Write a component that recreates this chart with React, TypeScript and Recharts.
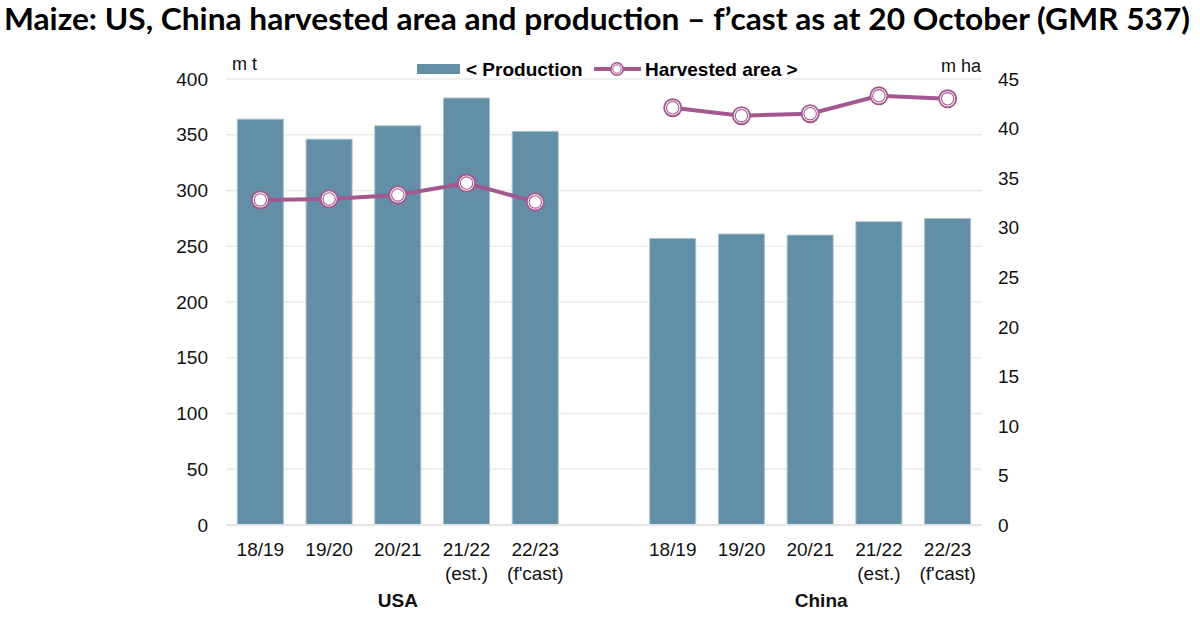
import { ComposedChart, Bar, Line, XAxis, YAxis, CartesianGrid } from 'recharts';

const categories = [
  'USA 18/19', 'USA 19/20', 'USA 20/21', 'USA 21/22', 'USA 22/23',
  'gap',
  'China 18/19', 'China 19/20', 'China 20/21', 'China 21/22', 'China 22/23',
];
const seasonLabels = ['18/19', '19/20', '20/21', '21/22', '22/23', '', '18/19', '19/20', '20/21', '21/22', '22/23'];
const noteLabels = ['', '', '', '(est.)', "(f'cast)", '', '', '', '', '(est.)', "(f'cast)"];
const groupLabels = [
  { index: 2, text: 'USA', shift: 0 },
  { index: 8, text: 'China', shift: 11 },
];

const production = [364, 346, 358, 383, 353, null, 257, 261, 260, 272, 275];
const harvestedArea = [32.8, 32.9, 33.3, 34.5, 32.6, null, 42.1, 41.3, 41.5, 43.3, 43.0];

const leftTicks = [0, 50, 100, 150, 200, 250, 300, 350, 400];
const rightTicks = [0, 5, 10, 15, 20, 25, 30, 35, 40, 45];

const BAR_COLOR = '#628fa5';
const LINE_COLOR = '#a3588f';
const FONT = '"Liberation Sans", Arial, sans-serif';

const data = categories.map((key, i) => ({
  key,
  production: production[i],
  area: harvestedArea[i],
}));

function AreaDot(props: any) {
  const { cx, cy, payload } = props;
  if (payload?.area == null || cx == null || cy == null) return null;
  return (
    <g>
      <circle cx={cx} cy={cy} r={9.5} fill={LINE_COLOR} />
      <circle cx={cx} cy={cy} r={7.6} fill="#fff" />
      <circle cx={cx} cy={cy} r={6.2} fill="#fff" stroke={LINE_COLOR} strokeWidth={1.1} />
    </g>
  );
}

function CategoryTick(props: any) {
  const { x, y, index } = props;
  const group = groupLabels.find((g) => g.index === index);
  return (
    <g fontFamily={FONT} fontSize={19} fill="#111">
      <text x={x} y={y + 31} textAnchor="middle">{seasonLabels[index]}</text>
      {noteLabels[index] && (
        <text x={x} y={y + 55} textAnchor="middle">{noteLabels[index]}</text>
      )}
      {group && (
        <text x={x + group.shift} y={y + 82} textAnchor="middle" fontWeight="bold">{group.text}</text>
      )}
    </g>
  );
}

export default function App() {
  return (
    <div style={{ position: 'absolute', left: 0, top: 0, width: 1200, height: 620, background: '#fff' }}>
      <ComposedChart
        width={1200}
        height={620}
        data={data}
        margin={{ top: 79, right: 0, left: 0, bottom: 0 }}
        barCategoryGap="16.5%"
      >
        <CartesianGrid yAxisId="left" vertical={false} stroke="#ebebeb" strokeWidth={1.3} />
        <XAxis
          dataKey="key"
          interval={0}
          height={95}
          tickLine={false}
          tickSize={0}
          tickMargin={0}
          axisLine={{ stroke: '#e3e3e3', strokeWidth: 2 }}
          tick={<CategoryTick />}
        />
        <YAxis
          yAxisId="left"
          width={226}
          domain={[0, 400]}
          ticks={leftTicks}
          axisLine={false}
          tickLine={false}
          tickSize={0}
          tickMargin={18}
          tick={{ fontFamily: FONT, fontSize: 19, fill: '#111' }}
        />
        <YAxis
          yAxisId="right"
          orientation="right"
          width={218}
          domain={[0, 45]}
          ticks={rightTicks}
          axisLine={false}
          tickLine={false}
          tickSize={0}
          tickMargin={16}
          tick={{ fontFamily: FONT, fontSize: 19, fill: '#111', textAnchor: 'start' }}
        />
        <Bar
          yAxisId="left"
          dataKey="production"
          fill={BAR_COLOR}
          stroke="#a8c0cc"
          strokeWidth={1}
          isAnimationActive={false}
        />
        <Line
          yAxisId="right"
          dataKey="area"
          stroke={LINE_COLOR}
          strokeWidth={4}
          dot={<AreaDot />}
          activeDot={false}
          isAnimationActive={false}
        />
      </ComposedChart>

      <svg
        width={1200}
        height={620}
        style={{ position: 'absolute', left: 0, top: 0, pointerEvents: 'none' }}
      >
        <text
          x={4}
          y={30}
          fontFamily='Lato, "DejaVu Sans Condensed", sans-serif'
          fontWeight="bold"
          fontSize={30}
          textLength={1186}
          lengthAdjust="spacingAndGlyphs"
          fill="#000"
        >
          Maize: US, China harvested area and production – f’cast as at 20 October (GMR 537)
        </text>

        <text x={232} y={70} fontFamily={FONT} fontSize={18} fill="#111">m t</text>
        <text x={981} y={72} fontFamily={FONT} fontSize={18} fill="#111" textAnchor="end">m ha</text>

        <rect x={417} y={64} width={43} height={10} fill={BAR_COLOR} />
        <text x={466} y={76} fontFamily={FONT} fontSize={19} fontWeight="bold" fill="#000">&lt; Production</text>
        <line x1={594} y1={69} x2={641} y2={69} stroke={LINE_COLOR} strokeWidth={4} />
        <circle cx={617} cy={69} r={7} fill={LINE_COLOR} />
        <circle cx={617} cy={69} r={5.4} fill="#fff" />
        <circle cx={617} cy={69} r={4.2} fill="#fff" stroke={LINE_COLOR} strokeWidth={1} />
        <text x={645} y={76} fontFamily={FONT} fontSize={19} fontWeight="bold" fill="#000">Harvested area &gt;</text>
      </svg>
    </div>
  );
}
